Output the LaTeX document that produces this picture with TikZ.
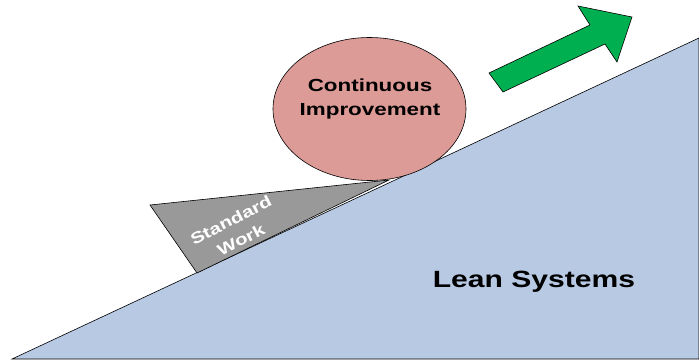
\documentclass[tikz,border=0pt]{standalone}
\usepackage{fontspec}
\setmainfont{Liberation Sans}
\newfontfamily\widesans[FakeStretch=1.28]{Liberation Sans}
\usetikzlibrary{positioning}
\definecolor{slopeblue}{RGB}{184,201,227}
\definecolor{ballred}{RGB}{221,155,151}
\definecolor{wedgegray}{RGB}{153,153,153}
\definecolor{arrowgreen}{RGB}{0,176,80}
\tikzstyle{outlined} = [
  draw=black,
  line width=0.6pt,
  line join=miter
]
\tikzstyle{caption} = [
  align=center,
  font=\widesans\bfseries,
  inner sep=0pt
]

\begin{document}
\begin{tikzpicture}[x=1pt, y=-1pt]
    \useasboundingbox (0,0) rectangle (699,362);
    \fill[white] (0,0) rectangle (699,362);
    % hill
    \draw [outlined, fill=slopeblue] (12,359) -- (699,359) -- (699,38) -- cycle;
    % wedge
    \draw [outlined, fill=wedgegray] (150,205) -- (389,180) -- (197,273) -- cycle;
    % ball
    \draw [outlined, fill=ballred] (369.5,109) ellipse [x radius=96.5, y radius=71.5];
    % arrow
    \draw [outlined, fill=arrowgreen] (503,92) -- (489,73) -- (590,25) -- (578,6)
      -- (632,17) -- (617,62) -- (605,44) -- cycle;

    \node (ball-text) [caption, font=\widesans\bfseries\fontsize{17.5}{24}\selectfont] at (370,99) {Continuous\\Improvement};
    \node (hill-text) [caption, font=\widesans\bfseries\fontsize{23.5}{26}\selectfont, anchor=base] at (534,287) {Lean Systems};
    \node (wedge-text) [caption, text=white, font=\widesans\bfseries\fontsize{16}{22}\selectfont, rotate=27] at (236,230) {Standard\\Work};
  \end{tikzpicture}
\end{document}
